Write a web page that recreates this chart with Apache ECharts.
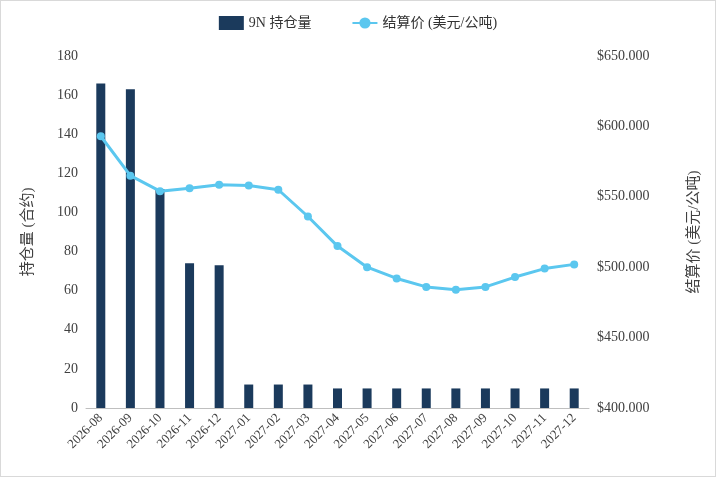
<!DOCTYPE html>
<html><head><meta charset="utf-8">
<script src="https://cdn.jsdelivr.net/npm/echarts@6/dist/echarts.min.js"></script>
<style>html,body{margin:0;padding:0;background:#fff}#c{width:714px;height:475px;border:1px solid #d9d9d9}</style>
</head><body><div id="c"></div>
<script>
const categories=['2026-08','2026-09','2026-10','2026-11','2026-12','2027-01','2027-02','2027-03','2027-04','2027-05','2027-06','2027-07','2027-08','2027-09','2027-10','2027-11','2027-12'];
const openInterest=[166,163,112,74,73,12,12,12,10,10,10,10,10,10,10,10,10];
const settlePrice=[593,565,554,556,558.5,558,555,536,515,500,492,486,484,486,493,499,502];
const font='"Liberation Serif","Noto Sans CJK SC",serif';
const chart=echarts.init(document.getElementById('c'));
chart.setOption({
  animation:false,
  textStyle:{fontFamily:font},
  legend:{top:10,left:'center',itemGap:40,textStyle:{fontFamily:font,fontSize:14,color:'#333'},
    data:[{name:'9N 持仓量',icon:'rect'},{name:'结算价 (美元/公吨)'}]},
  grid:{left:85,right:126,top:55,bottom:68},
  xAxis:{type:'category',data:categories,
    axisLine:{lineStyle:{color:'#bfbfbf'}},axisTick:{show:false},
    axisLabel:{rotate:45,color:'#404040',fontSize:13,fontFamily:font,interval:0}},
  yAxis:[
    {type:'value',min:0,max:180,interval:20,name:'持仓量 (合约)',nameLocation:'middle',nameGap:50,
     nameTextStyle:{fontSize:15,color:'#404040',fontFamily:font},
     splitLine:{show:false},axisLine:{show:false},axisLabel:{color:'#404040',fontSize:14,fontFamily:font}},
    {type:'value',min:400,max:650,interval:50,name:'结算价 (美元/公吨)',nameLocation:'middle',nameGap:98,nameRotate:90,
     nameTextStyle:{fontSize:15,color:'#404040',fontFamily:font},
     splitLine:{show:false},axisLine:{show:false},
     axisLabel:{color:'#404040',fontSize:14,fontFamily:font,formatter:v=>'$'+v.toFixed(3)}}
  ],
  series:[
    {name:'9N 持仓量',type:'bar',data:openInterest,barWidth:9,itemStyle:{color:'#1b3a5c'}},
    {name:'结算价 (美元/公吨)',type:'line',yAxisIndex:1,data:settlePrice,symbol:'circle',symbolSize:8,
     lineStyle:{color:'#5bc7ef',width:3},itemStyle:{color:'#5bc7ef'}}
  ]
});
</script></body></html>
